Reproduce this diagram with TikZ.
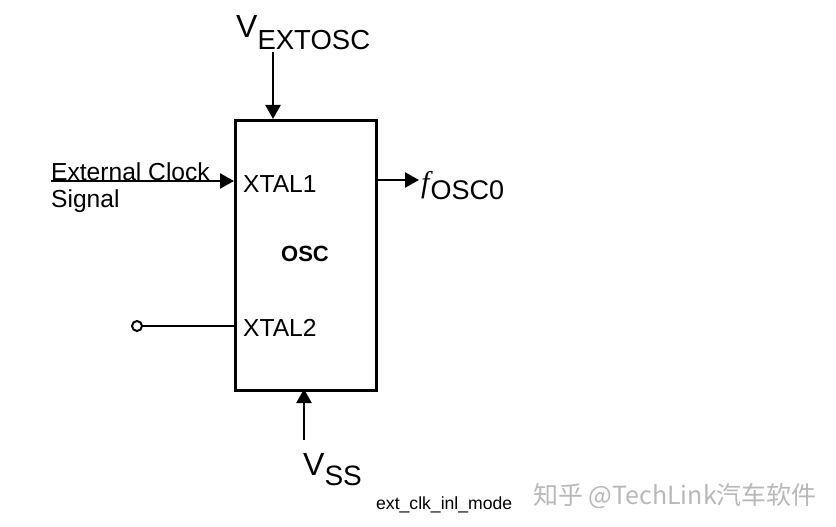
\documentclass[tikz,border=0pt]{standalone}
\usepackage{fontspec}
\setmainfont{Liberation Sans}
\newfontfamily\serifit{Liberation Serif}
\newfontfamily\cjk{Noto Sans CJK SC}
\usetikzlibrary{arrows.meta}
\begin{document}
\begin{tikzpicture}[x=1pt,y=-1pt,
  wire/.style={line width=2.3pt},
  arr/.style={wire,-{Triangle[length=14pt,width=15pt]}},
  lbl/.style={inner sep=0pt,font=\fontsize{24.6}{28}\selectfont}]
\useasboundingbox (0,0) rectangle (836,527);
\node[draw,line width=3pt,minimum width=141pt,minimum height=270pt,inner sep=0pt,anchor=north west] (osc) at (234,119) {};
\node[lbl,anchor=west] (x1) at (243,184) {XTAL1};
\node[lbl,anchor=west] (x2) at (243,328) {XTAL2};
\node[lbl,font=\bfseries\fontsize{22}{26}\selectfont] (o) at (305,254) {OSC};
% V_EXTOSC
\node[inner sep=0pt,anchor=base west,font=\fontsize{32}{36}\selectfont] (vext) at (236,38) {V\fontsize{27.5}{32}\selectfont\raisebox{-12pt}{EXTOSC}};
\coordinate (vextend) at (273,52);
\draw[arr] (vextend) -- (273,119);
% External clock
\node[lbl,anchor=base west] (ext) at (51,180) {External Clock};
\node[lbl,anchor=base west] (sig) at (51,207) {Signal};
\coordinate (extstart) at (51,181);
\draw[arr] (extstart) -- (234,181);
% f_OSC0
\coordinate (fout) at (375,180);
\node[inner sep=0pt,anchor=base west] (f) at (421,192) {{\serifit\itshape\fontsize{30}{34}\selectfont f}\hspace{1pt}{\fontsize{27}{30}\selectfont\raisebox{-7pt}{OSC0}}};
\draw[arr] (fout) -- (419,180);
% XTAL2 pin
\node[circle,draw,line width=2pt,minimum size=10pt,inner sep=0pt] (pin) at (137,326) {};
\draw[wire] (pin) -- (234,326);
% V_SS
\node[inner sep=0pt,anchor=base west,font=\fontsize{32}{36}\selectfont] (vss) at (303,475) {V\fontsize{28}{32}\selectfont\raisebox{-10pt}{SS}};
\coordinate (vssend) at (304,440);
\draw[arr] (vssend) -- (304,389);
% caption
\node[inner sep=0pt,anchor=base west,font=\fontsize{17.6}{20}\selectfont] (cap) at (376,509) {ext\_clk\_inl\_mode};
\node[inner sep=0pt,anchor=base west,text=black!28,font=\cjk\fontsize{25}{28}\selectfont] (wm) at (533,504) {知乎 @TechLink汽车软件};
\end{tikzpicture}
\end{document}
